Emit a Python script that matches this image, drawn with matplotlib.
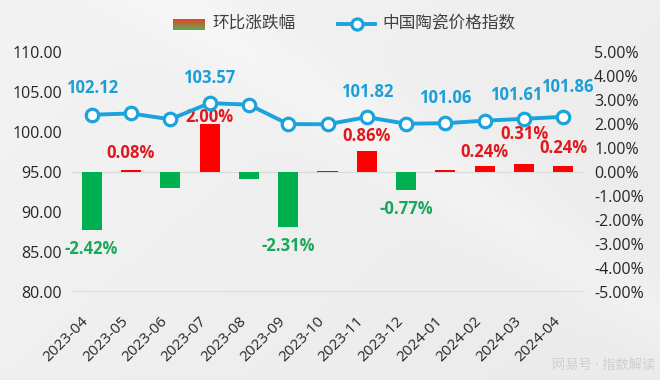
import numpy as np
import matplotlib
matplotlib.use("Agg")
import matplotlib.pyplot as plt
from matplotlib.lines import Line2D

plt.rcParams['font.family'] = ['Open Sans', 'Noto Sans CJK SC', 'DejaVu Sans']

# ---------------- data ----------------
months = ['2023-04', '2023-05', '2023-06', '2023-07', '2023-08', '2023-09', '2023-10',
          '2023-11', '2023-12', '2024-01', '2024-02', '2024-03', '2024-04']
index_values = [102.12, 102.28, 101.55, 103.57, 103.38, 100.95, 100.93,
                101.82, 101.00, 101.06, 101.38, 101.61, 101.86]
mom_change = [-2.42, 0.08, -0.68, 2.00, -0.30, -2.31, 0.05,
              0.86, -0.77, 0.06, 0.24, 0.31, 0.24]
index_label_idx = [0, 3, 7, 9, 11, 12]
change_label_idx = [0, 1, 3, 5, 7, 8, 10, 11, 12]
left_ticks = [80, 85, 90, 95, 100, 105, 110]
right_ticks = [-5, -4, -3, -2, -1, 0, 1, 2, 3, 4, 5]
legend_bar = '环比涨跌幅'
legend_line = '中国陶瓷价格指数'
watermark = '网易号 · 指数解读'

# ---------------- style ----------------
W, H = 660, 380
RED, GREEN = '#FF0000', '#00B050'
RED_T, GREEN_T = '#E0191F', '#19A85A'
BLUE, BLUE_T = '#1AA3DD', '#1E9ED6'
TXT = '#262626'

fig = plt.figure(figsize=(W / 100, H / 100), dpi=100)

# background gradient
bg = fig.add_axes([0, 0, 1, 1], zorder=-10)
yy, xx = np.mgrid[0:1:200j, 0:1:300j]
g = 0.955 - 0.035 * (0.6 * xx + 0.4 * yy) + 0.02 * np.exp(-((xx - yy * 0.9 - 0.25) ** 2) / 0.01)
bg.imshow(np.dstack([g, g, g]).clip(0, 1), aspect='auto', extent=[0, 1, 0, 1])
bg.axis('off')

L, R = 72 / W, 583 / W
B, T = 1 - 291.7 / H, 1 - 51.7 / H
ax = fig.add_axes([L, B, R - L, T - B])
ax2 = ax.twinx()

x = np.arange(len(months))

# bars on right axis
colors = [RED if v >= 0 else GREEN for v in mom_change]
ax2.bar(x, mom_change, width=0.51, color=colors, zorder=2)
ax2.axhline(0, color='#D9D9D9', lw=0.8, zorder=1)
ax2.set_ylim(-5, 5)
ax2.set_yticks(right_ticks)
ax2.set_yticklabels([f'{t:.2f}%' for t in right_ticks])

# line on left axis
ax.set_zorder(ax2.get_zorder() + 1)
ax.patch.set_visible(False)
ax.plot(x, index_values, color=BLUE, lw=2.8, marker='o', ms=9, mew=2.3,
        mfc='white', mec=BLUE, zorder=5)
ax.set_ylim(80, 110)
ax.set_yticks(left_ticks)
ax.set_yticklabels([f'{t:.2f}' for t in left_ticks])
ax.set_xlim(-0.5, len(months) - 0.5)
ax.set_xticks(x)
ax.set_xticklabels(months, rotation=45, ha='right', va='top', fontsize=11, color=TXT)
ax.axhline(80, color='#D9D9D9', lw=1.2, zorder=1)

for a in (ax, ax2):
    for s in a.spines.values():
        s.set_visible(False)
    a.tick_params(length=0, labelsize=11.5, labelcolor=TXT)
ax.tick_params(axis='y', pad=7)
ax2.tick_params(axis='y', pad=8)
ax.tick_params(axis='x', pad=16, labelsize=11)

# index labels (pixel offsets above the marker)
line_offsets = {0: (0, 27), 3: (0, 25), 7: (0, 25), 9: (0, 25), 11: (-8, 24), 12: (4, 30)}
for i in index_label_idx:
    dx, dy = line_offsets.get(i, (0, 25))
    ax.annotate(f'{index_values[i]:.2f}', (x[i], index_values[i]), xytext=(dx, dy),
                textcoords='offset pixels', ha='center', va='center',
                fontsize=12, fontweight='bold', color=BLUE_T, zorder=6)

# change labels
bar_offsets = {1: 17, 3: 7, 7: 15, 10: 14, 11: 30, 12: 18}
for i in change_label_idx:
    v = mom_change[i]
    if v >= 0:
        dy = bar_offsets.get(i, 15)
        c = RED_T
    else:
        dy = -bar_offsets.get(i, 19)
        c = GREEN_T
    ax2.annotate(f'{v:.2f}%', (x[i], v), xytext=(0, dy), textcoords='offset pixels',
                 ha='center', va='center', fontsize=12, fontweight='bold', color=c, zorder=6)

# legend (manual)
def fx(px):
    return px / W

def fy(py):
    return 1 - py / H

lp = fig.add_axes([fx(173), fy(30), fx(205) - fx(173), fy(19) - fy(30)])
grad = np.linspace(0, 1, 20)[:, None]
c1 = np.array([0.93, 0.25, 0.18])
c2 = np.array([0.35, 0.68, 0.30])
img = (c1[None, None, :] * (1 - grad[..., None]) + c2[None, None, :] * grad[..., None])
img = np.repeat(img, 4, axis=1)
lp.imshow(img, aspect='auto', extent=[0, 1, 0, 1])
lp.axis('off')
fig.text(fx(212), fy(24), legend_bar, ha='left', va='center', fontsize=12, color='#404040')

fig.add_artist(Line2D([fx(338), fx(375)], [fy(24), fy(24)], transform=fig.transFigure,
                      color=BLUE, lw=2.8))
fig.add_artist(Line2D([fx(357)], [fy(24)], transform=fig.transFigure, marker='o', ms=8,
                      mew=2.3, mfc='white', mec=BLUE, color=BLUE))
fig.text(fx(382), fy(24), legend_line, ha='left', va='center', fontsize=12, color='#404040')

fig.text(fx(655), fy(366), watermark, ha='right', va='center', fontsize=9.5, color='#CFCFCF')

fig.savefig('out.png', dpi=100)
